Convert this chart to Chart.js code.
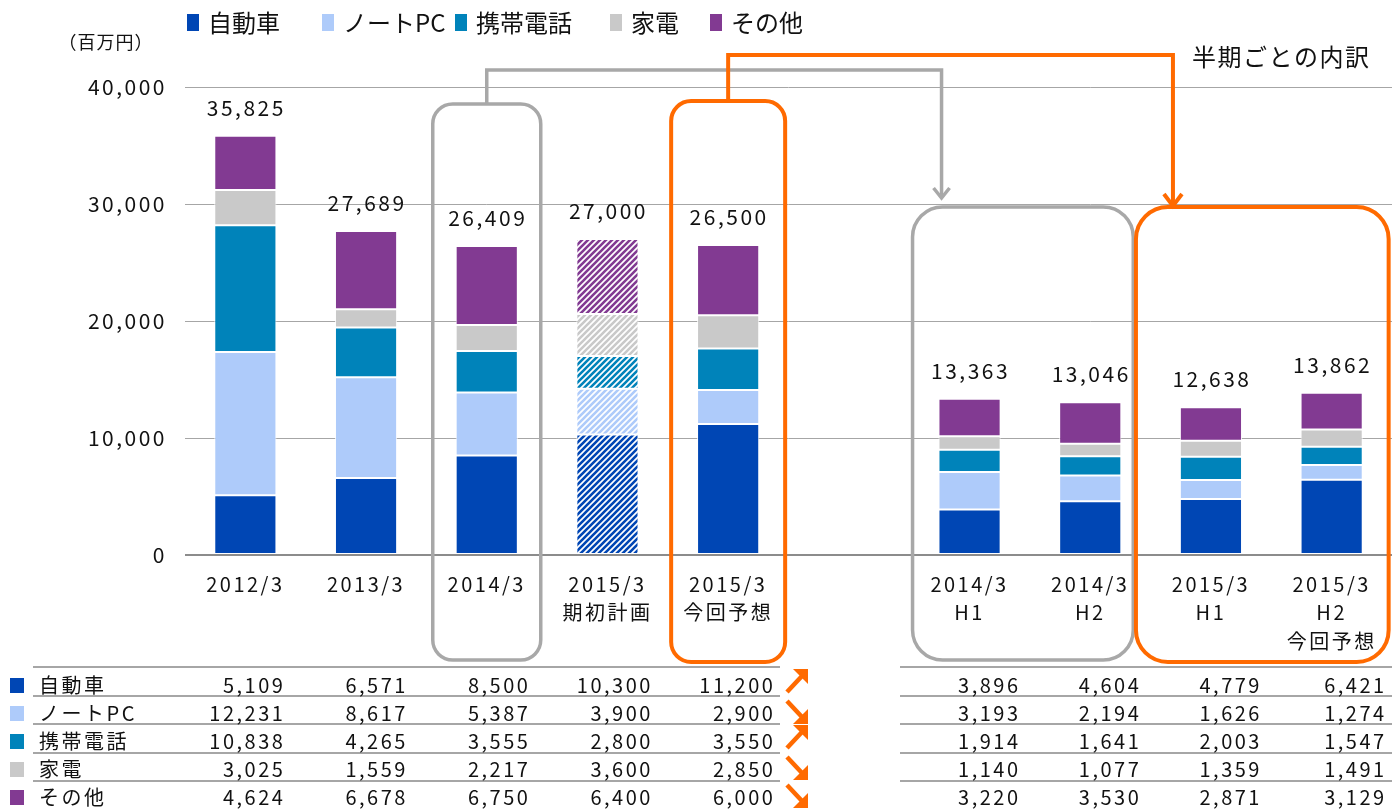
<!DOCTYPE html>
<html>
<head>
<meta charset="utf-8">
<script src="https://cdn.jsdelivr.net/npm/chart.js@4/dist/chart.umd.min.js"></script>
<style>
html,body{margin:0;padding:0;background:#fff;}
canvas{display:block;}
</style>
</head>
<body>
<canvas id="c" width="1392" height="809"></canvas>
<script>
// ---- data ----
const categories = [['2012/3'], ['2013/3'], ['2014/3'], ['2015/3', '期初計画'], ['2015/3', '今回予想'], '', ['2014/3', 'H1'], ['2014/3', 'H2'], ['2015/3', 'H1'], ['2015/3', 'H2', '今回予想']];
const seriesNames = ['自動車', 'ノートPC', '携帯電話', '家電', 'その他'];
const autoVals      = [5109, 6571, 8500, 10300, 11200, null, 3896, 4604, 4779, 6421];
const notePcVals    = [12231, 8617, 5387, 3900, 2900, null, 3193, 2194, 1626, 1274];
const mobileVals    = [10838, 4265, 3555, 2800, 3550, null, 1914, 1641, 2003, 1547];
const applianceVals = [3025, 1559, 2217, 3600, 2850, null, 1140, 1077, 1359, 1491];
const otherVals     = [4624, 6678, 6750, 6400, 6000, null, 3220, 3530, 2871, 3129];
const totals        = [35825, 27689, 26409, 27000, 26500, null, 13363, 13046, 12638, 13862];
const trends        = ['up', 'down', 'up', 'down', 'down'];
const yTicks        = [0, 10000, 20000, 30000, 40000];
const planIndex = 3;

// ---- styles ----
const colors = ['#0046B4', '#AECBFA', '#0083BA', '#C9C9C9', '#823A92'];
const FONT = '"Noto Sans CJK JP", "Noto Sans", sans-serif';
const ORANGE = '#FF6A00';
const GRAY = '#A8A8A8';
const SPACING = '2.5px';

function stripe(color) {
  const s = 6;
  const c = document.createElement('canvas');
  c.width = s; c.height = s;
  const g = c.getContext('2d');
  g.fillStyle = '#fff';
  g.fillRect(0, 0, s, s);
  g.strokeStyle = color;
  g.lineWidth = 2.6;
  g.beginPath();
  g.moveTo(-1, s + 1); g.lineTo(s + 1, -1);
  g.moveTo(-s / 2 - 1, s / 2 + 1); g.lineTo(s / 2 + 1, -s / 2 - 1);
  g.moveTo(s / 2 - 1, s * 1.5 + 1); g.lineTo(s * 1.5 + 1, s / 2 - 1);
  g.stroke();
  return g.createPattern(c, 'repeat');
}

const seriesVals = [autoVals, notePcVals, mobileVals, applianceVals, otherVals];
const datasets = seriesVals.map((vals, k) => {
  const pat = stripe(colors[k]);
  return {
    label: seriesNames[k],
    data: vals,
    backgroundColor: vals.map((v, i) => i === planIndex ? pat : colors[k]),
    borderColor: 'rgba(255,255,255,0.85)',
    borderWidth: 1,
    borderSkipped: false,
    barPercentage: 0.515,
    categoryPercentage: 1.0,
    stack: 's'
  };
});

function fmt(v) { return v.toLocaleString('en-US'); }

function roundRect(ctx, x1, y1, x2, y2, r) {
  ctx.beginPath();
  ctx.moveTo(x1 + r, y1);
  ctx.lineTo(x2 - r, y1);
  ctx.arcTo(x2, y1, x2, y1 + r, r);
  ctx.lineTo(x2, y2 - r);
  ctx.arcTo(x2, y2, x2 - r, y2, r);
  ctx.lineTo(x1 + r, y2);
  ctx.arcTo(x1, y2, x1, y2 - r, r);
  ctx.lineTo(x1, y1 + r);
  ctx.arcTo(x1, y1, x1 + r, y1, r);
  ctx.closePath();
  ctx.stroke();
}

const spacingPlugin = {
  id: 'spacing',
  beforeUpdate(chart) { chart.ctx.letterSpacing = SPACING; },
  beforeDraw(chart) { chart.ctx.letterSpacing = SPACING; }
};

const decoPlugin = {
  id: 'deco',
  afterDatasetsDraw(chart) {
    const ctx = chart.ctx;
    const X = chart.scales.x;
    const cx = i => X.getPixelForValue(i);
    ctx.save();
    ctx.letterSpacing = SPACING;

    // totals above bars
    ctx.fillStyle = '#111';
    ctx.font = '21px ' + FONT;
    ctx.textAlign = 'center';
    ctx.textBaseline = 'middle';
    const topMeta = chart.getDatasetMeta(seriesVals.length - 1);
    totals.forEach((t, i) => {
      if (t == null) return;
      const el = topMeta.data[i];
      ctx.fillText(fmt(t), cx(i) + 1, el.y - 28);
    });

    // legend
    ctx.textAlign = 'left';
    const legX = [187, 322, 455, 610, 710];
    ctx.font = '24px ' + FONT;
    ctx.letterSpacing = '0px';
    seriesNames.forEach((n, k) => {
      ctx.fillStyle = colors[k];
      ctx.fillRect(legX[k], 14, 12, 17);
      ctx.fillStyle = '#111';
      ctx.fillText(n, legX[k] + 21, 23);
    });
    ctx.letterSpacing = '1px';
    ctx.font = '18px ' + FONT;
    ctx.textAlign = 'center';
    ctx.fillText('（百万円）', 106, 42);
    ctx.textAlign = 'left';
    ctx.letterSpacing = '1.5px';
    ctx.font = '24px ' + FONT;
    ctx.fillText('半期ごとの内訳', 1192, 57);
    ctx.letterSpacing = SPACING;

    // table
    const rowY = [685, 713, 741, 769, 797];
    const lineY = [667, 696, 724, 753, 781];
    ctx.strokeStyle = '#A6A6A6';
    ctx.lineWidth = 2;
    lineY.forEach(y => {
      ctx.beginPath();
      ctx.moveTo(33, y); ctx.lineTo(780, y);
      ctx.moveTo(900, y); ctx.lineTo(1392, y);
      ctx.stroke();
    });
    seriesNames.forEach((n, k) => {
      const y = rowY[k];
      ctx.fillStyle = colors[k];
      ctx.fillRect(10, y - 7, 14, 15);
      ctx.fillStyle = '#111';
      ctx.font = '20px ' + FONT;
      ctx.textAlign = 'left';
      ctx.fillText(n, 39, y);
      ctx.textAlign = 'right';
      seriesVals[k].forEach((v, i) => {
        if (v == null) return;
        const off = i < 5 ? 40 + 1.8 * i : (i === 9 ? 55 : 51);
        ctx.fillText(fmt(v), cx(i) + off, y);
      });
      // trend arrows
      ctx.fillStyle = ORANGE;
      ctx.strokeStyle = ORANGE;
      ctx.lineWidth = 4.5;
      ctx.beginPath();
      if (trends[k] === 'up') {
        ctx.moveTo(787, y + 7); ctx.lineTo(802, y - 9);
        ctx.stroke();
        ctx.beginPath();
        ctx.moveTo(793, y - 16); ctx.lineTo(808, y - 16); ctx.lineTo(808, y - 1); ctx.closePath();
        ctx.fill();
      } else {
        ctx.moveTo(787, y - 12); ctx.lineTo(802, y + 4);
        ctx.stroke();
        ctx.beginPath();
        ctx.moveTo(808, y - 4); ctx.lineTo(808, y + 11); ctx.lineTo(793, y + 11); ctx.closePath();
        ctx.fill();
      }
      ctx.strokeStyle = '#A6A6A6';
      ctx.lineWidth = 2;
    });

    // highlight boxes
    ctx.lineWidth = 3.5;
    ctx.strokeStyle = GRAY;
    roundRect(ctx, cx(2) - 54, 104, cx(2) + 54, 660, 20);
    roundRect(ctx, cx(6) - 57, 207, cx(7) + 43, 660, 30);
    ctx.lineWidth = 4;
    ctx.strokeStyle = ORANGE;
    roundRect(ctx, cx(4) - 57, 101, cx(4) + 57, 662, 20);
    roundRect(ctx, cx(8) - 75, 207, cx(9) + 57, 662, 32);

    // connectors
    ctx.lineCap = 'butt';
    ctx.lineJoin = 'miter';
    ctx.lineWidth = 3.5;
    ctx.strokeStyle = GRAY;
    const gx = cx(6) - 28;
    ctx.beginPath();
    ctx.moveTo(cx(2), 104); ctx.lineTo(cx(2), 70); ctx.lineTo(gx, 70); ctx.lineTo(gx, 197);
    ctx.stroke();
    ctx.beginPath();
    ctx.moveTo(gx - 8, 188); ctx.lineTo(gx, 198); ctx.lineTo(gx + 8, 188);
    ctx.stroke();
    ctx.lineWidth = 4;
    ctx.strokeStyle = ORANGE;
    const ox = cx(8) - 38;
    ctx.beginPath();
    ctx.moveTo(cx(4), 101); ctx.lineTo(cx(4), 55); ctx.lineTo(ox, 55); ctx.lineTo(ox, 205);
    ctx.stroke();
    ctx.beginPath();
    ctx.moveTo(ox - 9, 194); ctx.lineTo(ox, 206); ctx.lineTo(ox + 9, 194);
    ctx.stroke();

    ctx.restore();
  }
};

new Chart(document.getElementById('c'), {
  type: 'bar',
  data: { labels: categories, datasets: datasets },
  plugins: [spacingPlugin, decoPlugin],
  options: {
    responsive: false,
    animation: false,
    layout: { padding: { top: 87, left: 0, right: 0, bottom: 0 } },
    plugins: { legend: { display: false }, tooltip: { enabled: false } },
    scales: {
      x: {
        stacked: true,
        offset: true,
        grid: { display: false, drawTicks: false },
        border: { display: false },
        ticks: {
          autoSkip: false, maxRotation: 0, padding: 15,
          color: '#111',
          font: { family: FONT, size: 20, lineHeight: 1.42 }
        },
        afterFit(s) { s.height = 809 - 555; }
      },
      y: {
        stacked: true,
        min: 0, max: 40000,
        afterBuildTicks(s) { s.ticks = yTicks.map(v => ({ value: v })); },
        grid: {
          drawTicks: false,
          color: c => c.tick && c.tick.value === 0 ? '#8C8C8C' : '#A6A6A6',
          lineWidth: c => c.tick && c.tick.value === 0 ? 2 : 1
        },
        border: { display: false },
        ticks: {
          padding: 18, color: '#111',
          font: { family: FONT, size: 21 },
          callback: v => fmt(v)
        },
        afterFit(s) { s.width = 185; }
      }
    }
  }
});
</script>
</body>
</html>
